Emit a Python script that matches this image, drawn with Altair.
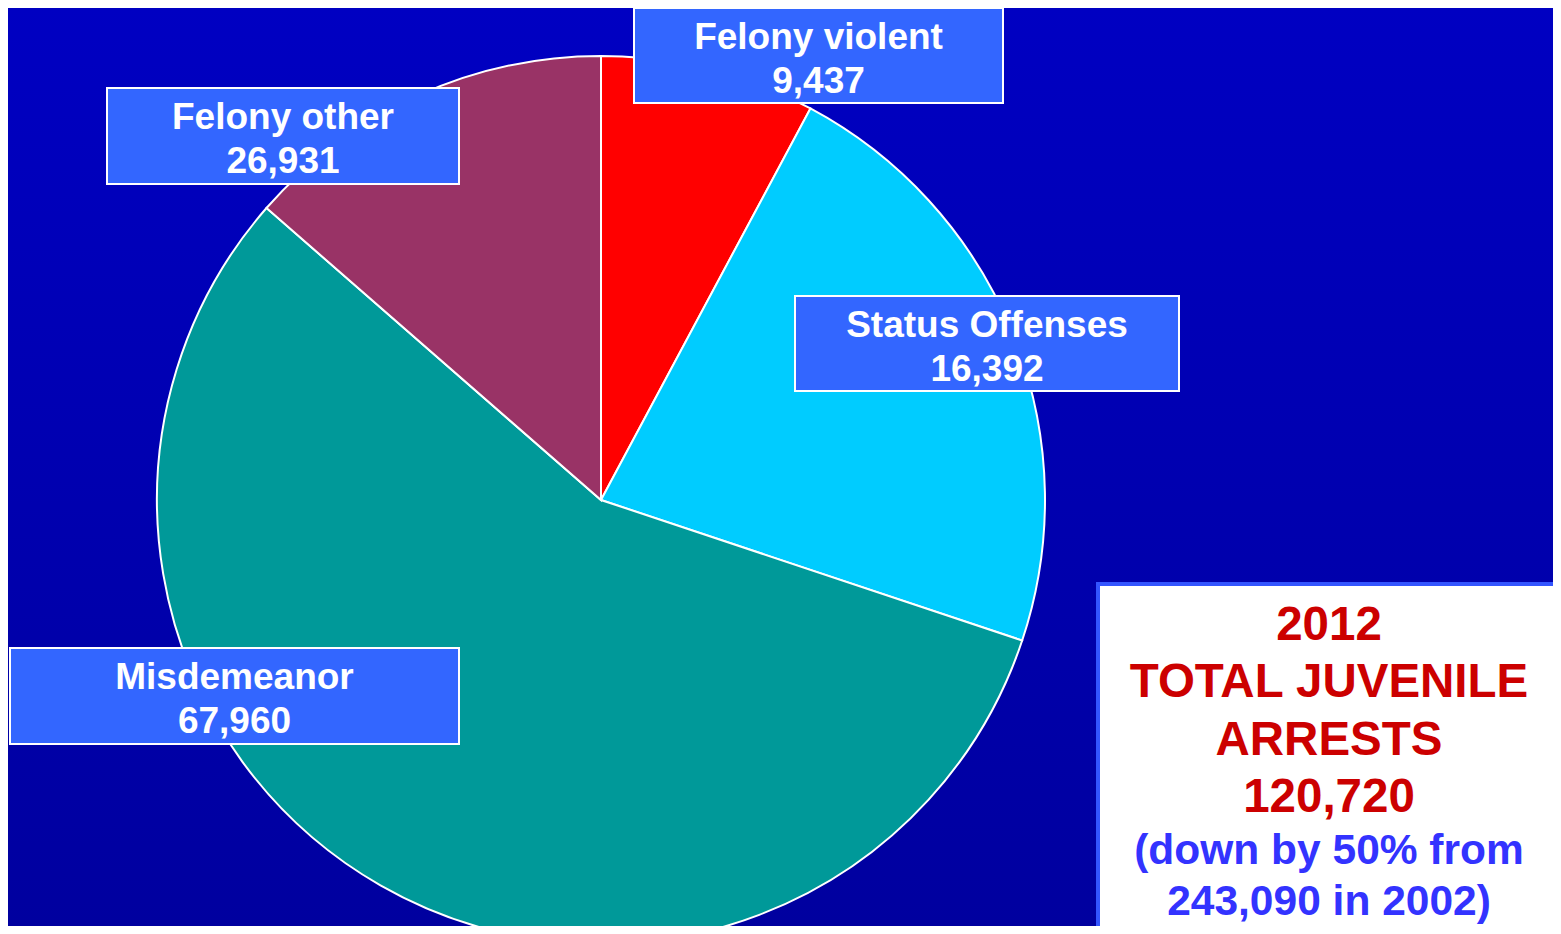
import altair as alt
import pandas as pd

# ---- data ----
# slices, clockwise from 12 o'clock, with the sizes as drawn in the picture
slice_names = ["Felony violent", "Status Offenses", "Misdemeanor", "Felony other"]
slice_values = [9437, 26931, 67960, 16392]
slice_colors = ["#FF0000", "#00CCFF", "#009999", "#993366"]

# label boxes (text as printed)
label_names = ["Felony violent", "Felony other", "Status Offenses", "Misdemeanor"]
label_values = [9437, 26931, 16392, 67960]

# summary box
total_year = 2012
total_value = 120720
prev_value = 243090
prev_year = 2002
drop_pct = 50

# ---- layout (reference pixel coordinates) ----
W, H = 1545, 918          # page has 8px margin on every side
OFF = 8
PIE_CX, PIE_CY, PIE_R = 601, 500, 444
label_boxes = [  # x0, x1, y0, y1
    (634, 1003, 8, 103),
    (107, 459, 88, 184),
    (795, 1179, 296, 391),
    (10, 459, 648, 744),
]
FONT = "Liberation Sans"

xs = alt.Scale(domain=[OFF, W + OFF], range=[0, W], nice=False, zero=False)
ys = alt.Scale(domain=[OFF, H + OFF], range=[0, H], nice=False, zero=False)

def X(f):
    return alt.X(f, type="quantitative", scale=xs, axis=None)

def Y(f):
    return alt.Y(f, type="quantitative", scale=ys, axis=None)

# background gradient
bg = alt.Chart(alt.Data(values=[{"a": 1}])).mark_rect(
    color=alt.LinearGradient(
        gradient="linear",
        stops=[alt.GradientStop(color="#0000C2", offset=0),
               alt.GradientStop(color="#00009F", offset=1)],
        x1=0, x2=0, y1=0, y2=1,
    )
).encode(x=alt.value(0), x2=alt.value(W), y=alt.value(0), y2=alt.value(H))

# pie
pie_df = pd.DataFrame({"name": slice_names, "value": slice_values,
                       "idx": list(range(len(slice_names)))})
pie = alt.Chart(pie_df).mark_arc(radius=PIE_R, stroke="white", strokeWidth=2, clip=True).encode(
    theta=alt.Theta("value:Q", stack=True),
    order=alt.Order("idx:Q", sort="ascending"),
    color=alt.Color("name:N", scale=alt.Scale(domain=slice_names, range=slice_colors), legend=None),
    x=alt.value(PIE_CX - OFF),
    y=alt.value(PIE_CY - OFF),
)

# label boxes
box_df = pd.DataFrame({
    "x0": [b[0] for b in label_boxes], "x1": [b[1] for b in label_boxes],
    "y0": [b[2] for b in label_boxes], "y1": [b[3] for b in label_boxes],
})
boxes = alt.Chart(box_df).mark_rect(fill="#3366FF", stroke="white", strokeWidth=2).encode(
    x=X("x0"), x2="x1", y=Y("y0"), y2="y1")

rows = []
for b, n, v in zip(label_boxes, label_names, label_values):
    cx = (b[0] + b[1]) / 2
    rows.append({"cx": cx, "by": b[2] + 41, "t": n})
    rows.append({"cx": cx, "by": b[2] + 85, "t": f"{v:,}"})
lab_df = pd.DataFrame(rows)
labels = alt.Chart(lab_df).mark_text(
    font=FONT, fontWeight="bold", fontSize=37, color="white",
    align="center", baseline="alphabetic",
).encode(x=X("cx"), y=Y("by"), text="t:N")

# summary box
sum_box_df = pd.DataFrame({"x0": [1098], "x1": [1559], "y0": [584], "y1": [932]})
sum_box = alt.Chart(sum_box_df).mark_rect(
    fill="white", stroke="#3355FF", strokeWidth=4, clip=True
).encode(x=X("x0"), x2="x1", y=Y("y0"), y2="y1")

SCX = 1329
red_df = pd.DataFrame({
    "cx": [SCX] * 4,
    "by": [640, 697, 755, 812],
    "t": [str(total_year), "TOTAL JUVENILE", "ARRESTS", f"{total_value:,}"],
})
red_text = alt.Chart(red_df).mark_text(
    font=FONT, fontWeight="bold", fontSize=47.5, color="#CC0000",
    align="center", baseline="alphabetic",
).encode(x=X("cx"), y=Y("by"), text="t:N")

blue_df = pd.DataFrame({
    "cx": [SCX, SCX],
    "by": [864, 915],
    "t": [f"(down by {drop_pct}% from", f"{prev_value:,} in {prev_year})"],
})
blue_text = alt.Chart(blue_df).mark_text(
    font=FONT, fontWeight="bold", fontSize=42.5, color="#3333FF",
    align="center", baseline="alphabetic",
).encode(x=X("cx"), y=Y("by"), text="t:N")

chart = alt.layer(bg, pie, boxes, labels, sum_box, red_text, blue_text).properties(
    width=W, height=H,
    autosize=alt.AutoSizeParams(type="none"),
    padding=0,
    background="#0000B0",
).configure_view(stroke=None)

chart.save("out.html", embed_options={"renderer": "svg", "actions": False})
